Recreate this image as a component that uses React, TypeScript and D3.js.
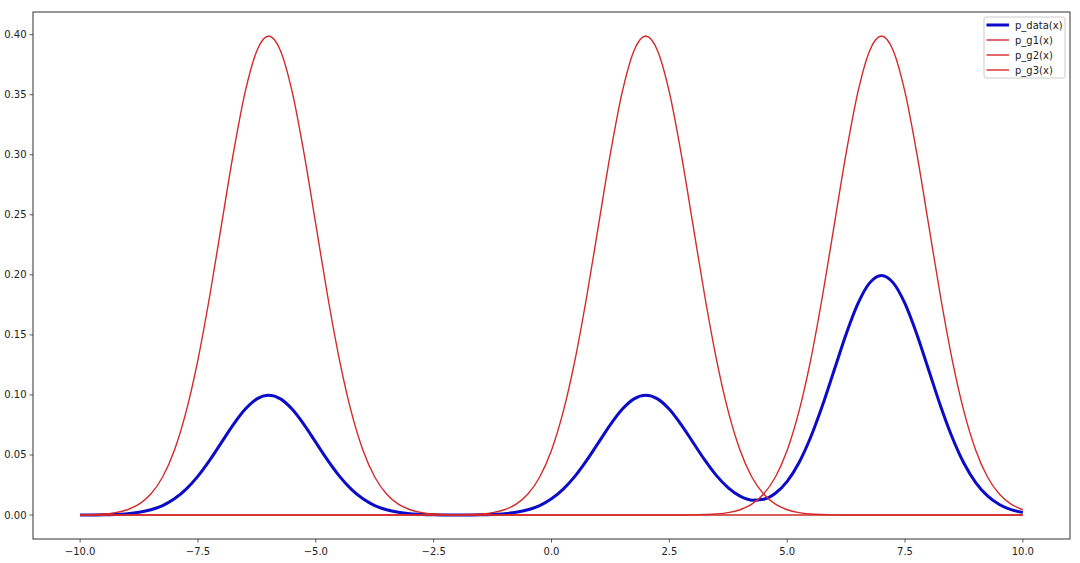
import React from "react";
import * as d3 from "d3";

const xValues = [
  -10, -9.75, -9.5, -9.25, -9, -8.75, -8.5, -8.25, -8, -7.75, -7.5, -7.25,
  -7, -6.75, -6.5, -6.25, -6, -5.75, -5.5, -5.25, -5, -4.75, -4.5, -4.25,
  -4, -3.75, -3.5, -3.25, -3, -2.75, -2.5, -2.25, -2, -1.75, -1.5, -1.25,
  -1, -0.75, -0.5, -0.25, 0, 0.25, 0.5, 0.75, 1, 1.25, 1.5, 1.75,
  2, 2.25, 2.5, 2.75, 3, 3.25, 3.5, 3.75, 4, 4.25, 4.5, 4.75,
  5, 5.25, 5.5, 5.75, 6, 6.25, 6.5, 6.75, 7, 7.25, 7.5, 7.75,
  8, 8.25, 8.5, 8.75, 9, 9.25, 9.5, 9.75, 10,
];

const pData = [
  0.0, 0.0001, 0.0002, 0.0005,
  0.0011, 0.0023, 0.0044, 0.0079,
  0.0135, 0.0216, 0.0324, 0.0457,
  0.0605, 0.0753, 0.088, 0.0967,
  0.0997, 0.0967, 0.088, 0.0753,
  0.0605, 0.0457, 0.0324, 0.0216,
  0.0135, 0.0079, 0.0044, 0.0023,
  0.0011, 0.0005, 0.0002, 0.0001,
  0.0, 0.0001, 0.0002, 0.0005,
  0.0011, 0.0023, 0.0044, 0.0079,
  0.0135, 0.0216, 0.0324, 0.0457,
  0.0605, 0.0753, 0.088, 0.0967,
  0.0997, 0.0967, 0.088, 0.0753,
  0.0606, 0.0459, 0.0328, 0.0226,
  0.0157, 0.0124, 0.0132, 0.0182,
  0.0281, 0.0436, 0.065, 0.0914,
  0.121, 0.1506, 0.176, 0.1933,
  0.1995, 0.1933, 0.176, 0.1506,
  0.121, 0.0913, 0.0648, 0.0431,
  0.027, 0.0159, 0.0088, 0.0045,
  0.0022,
];

const pG1 = [
  0.0001, 0.0004, 0.0009, 0.002,
  0.0044, 0.0091, 0.0175, 0.0317,
  0.054, 0.0863, 0.1295, 0.1826,
  0.242, 0.3011, 0.3521, 0.3867,
  0.3989, 0.3867, 0.3521, 0.3011,
  0.242, 0.1826, 0.1295, 0.0863,
  0.054, 0.0317, 0.0175, 0.0091,
  0.0044, 0.002, 0.0009, 0.0004,
  0.0001, 0, 0, 0,
  0, 0, 0, 0,
  0, 0, 0, 0,
  0, 0, 0, 0,
  0, 0, 0, 0,
  0, 0, 0, 0,
  0, 0, 0, 0,
  0, 0, 0, 0,
  0, 0, 0, 0,
  0, 0, 0, 0,
  0, 0, 0, 0,
  0, 0, 0, 0,
  0,
];

const pG2 = [
  0, 0, 0, 0,
  0, 0, 0, 0,
  0, 0, 0, 0,
  0, 0, 0, 0,
  0, 0, 0, 0,
  0, 0, 0, 0,
  0, 0, 0, 0,
  0, 0, 0, 0,
  0.0001, 0.0004, 0.0009, 0.002,
  0.0044, 0.0091, 0.0175, 0.0317,
  0.054, 0.0863, 0.1295, 0.1826,
  0.242, 0.3011, 0.3521, 0.3867,
  0.3989, 0.3867, 0.3521, 0.3011,
  0.242, 0.1826, 0.1295, 0.0863,
  0.054, 0.0317, 0.0175, 0.0091,
  0.0044, 0.002, 0.0009, 0.0004,
  0.0001, 0, 0, 0,
  0, 0, 0, 0,
  0, 0, 0, 0,
  0, 0, 0, 0,
  0,
];

const pG3 = [
  0, 0, 0, 0,
  0, 0, 0, 0,
  0, 0, 0, 0,
  0, 0, 0, 0,
  0, 0, 0, 0,
  0, 0, 0, 0,
  0, 0, 0, 0,
  0, 0, 0, 0,
  0, 0, 0, 0,
  0, 0, 0, 0,
  0, 0, 0, 0,
  0, 0, 0, 0,
  0, 0, 0, 0,
  0.0001, 0.0004, 0.0009, 0.002,
  0.0044, 0.0091, 0.0175, 0.0317,
  0.054, 0.0863, 0.1295, 0.1826,
  0.242, 0.3011, 0.3521, 0.3867,
  0.3989, 0.3867, 0.3521, 0.3011,
  0.242, 0.1826, 0.1295, 0.0863,
  0.054, 0.0317, 0.0175, 0.0091,
  0.0044,
];

const xTicks = [-10, -7.5, -5, -2.5, 0, 2.5, 5, 7.5, 10];
const yTicks = [0, 0.05, 0.1, 0.15, 0.2, 0.25, 0.3, 0.35, 0.4];

const seriesNames = ["p_data(x)", "p_g1(x)", "p_g2(x)", "p_g3(x)"];
const seriesValues = [pData, pG1, pG2, pG3];

const BLUE = "#0b0bc8";
const RED = "#d42a2a";

export default function App() {
  const W = 1080;
  const H = 563;
  const left = 33;
  const right = 1070;
  const top = 12;
  const bottom = 539;

  const x = d3.scaleLinear().domain([-11, 11]).range([left, right]);
  const y = d3.scaleLinear().domain([-0.01995, 0.41888]).range([bottom, top]);

  const fmt = (v: number, d: number) => {
    const s = Math.abs(v).toFixed(d);
    return v < 0 ? "\u2212" + s : s;
  };

  const line = (vals: number[]) =>
    d3
      .line<number>()
      .x((_, i) => x(xValues[i]))
      .y((v) => y(v))
      .curve(d3.curveMonotoneX)(vals) || "";

  const styles = [
    { color: BLUE, width: 3 },
    { color: RED, width: 1.4 },
    { color: RED, width: 1.4 },
    { color: RED, width: 1.4 },
  ];

  const font = "DejaVu Sans, sans-serif";

  return (
    <svg
      width={W}
      height={H}
      style={{ position: "absolute", left: 0, top: 0, background: "#fff" }}
    >
      <rect x={0} y={0} width={W} height={H} fill="#fff" />
      <defs>
        <clipPath id="plotclip">
          <rect x={left} y={top} width={right - left} height={bottom - top} />
        </clipPath>
      </defs>
      <g clipPath="url(#plotclip)">
        {seriesValues.map((vals, k) => (
          <path
            key={k}
            d={line(vals)}
            fill="none"
            stroke={styles[k].color}
            strokeWidth={styles[k].width}
            strokeLinejoin="round"
            strokeLinecap="butt"
          />
        ))}
      </g>
      <rect
        x={left}
        y={top}
        width={right - left}
        height={bottom - top}
        fill="none"
        stroke="#333"
        strokeWidth={1}
      />
      {xTicks.map((t) => (
        <g key={"x" + t}>
          <line x1={x(t)} x2={x(t)} y1={bottom} y2={bottom + 3.5} stroke="#333" strokeWidth={0.8} />
          <text
            x={x(t)}
            y={bottom + 15.5}
            textAnchor="middle"
            fontFamily={font}
            fontSize={10}
            fill="#222"
          >
            {fmt(t, 1)}
          </text>
        </g>
      ))}
      {yTicks.map((t) => (
        <g key={"y" + t}>
          <line x1={left - 3.5} x2={left} y1={y(t)} y2={y(t)} stroke="#333" strokeWidth={0.8} />
          <text
            x={left - 6.5}
            y={y(t)}
            dy="0.35em"
            textAnchor="end"
            fontFamily={font}
            fontSize={10}
            fill="#222"
          >
            {fmt(t, 2)}
          </text>
        </g>
      ))}
      <g>
        <rect
          x={984}
          y={17}
          width={81}
          height={61}
          rx={2}
          fill="#fff"
          fillOpacity={0.8}
          stroke="#ccc"
          strokeWidth={1}
        />
        {seriesNames.map((name, k) => (
          <g key={name}>
            <line
              x1={986.5}
              x2={1009}
              y1={25 + k * 15}
              y2={25 + k * 15}
              stroke={styles[k].color}
              strokeWidth={styles[k].width}
            />
            <text
              x={1015}
              y={25 + k * 15}
              dy="0.35em"
              fontFamily={font}
              fontSize={10}
              fill="#222"
            >
              {name}
            </text>
          </g>
        ))}
      </g>
    </svg>
  );
}
